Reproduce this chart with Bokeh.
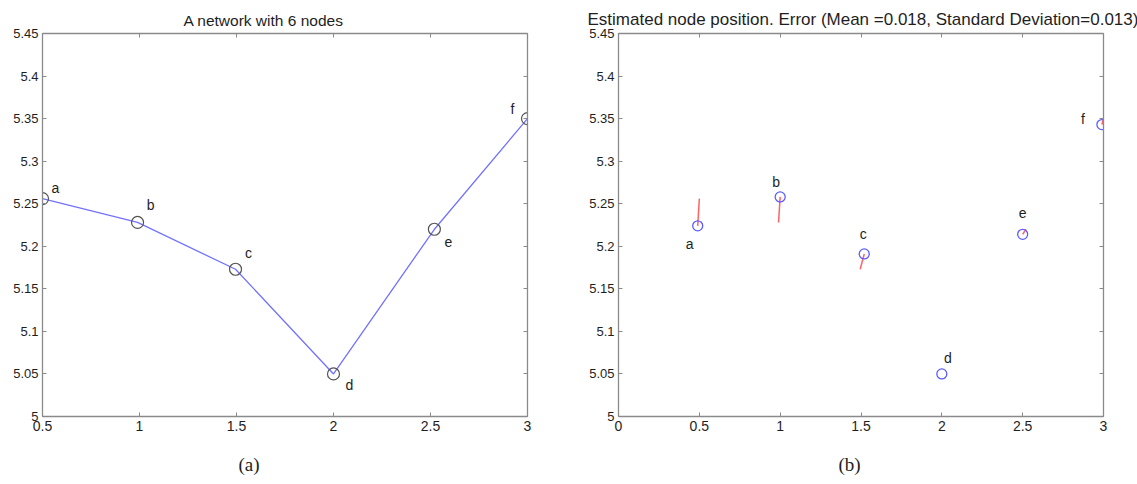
from bokeh.plotting import figure
from bokeh.layouts import row
from bokeh.models import LinearAxis, FixedTicker, Range1d, ColumnDataSource, Title, CustomJSTickFormatter
from bokeh.embed import file_html
from bokeh.resources import INLINE
from bokeh.core.properties import value

# ---------------- data ----------------
node_names = ["a", "b", "c", "d", "e", "f"]
true_x = [0.5, 0.99, 1.495, 2.0, 2.52, 3.0]
true_y = [5.256, 5.228, 5.173, 5.05, 5.22, 5.35]
est_x = [0.49, 1.0, 1.52, 2.0, 2.5, 2.99]
est_y = [5.224, 5.258, 5.191, 5.05, 5.214, 5.343]

y_ticks = [5.0, 5.05, 5.1, 5.15, 5.2, 5.25, 5.3, 5.35, 5.4, 5.45]
y_tick_labels = ["5", "5.05", "5.1", "5.15", "5.2", "5.25", "5.3", "5.35", "5.4", "5.45"]
xa_ticks = [0.5, 1.0, 1.5, 2.0, 2.5, 3.0]
xa_tick_labels = ["0.5", "1", "1.5", "2", "2.5", "3"]
xb_ticks = [0.0, 0.5, 1.0, 1.5, 2.0, 2.5, 3.0]
xb_tick_labels = ["0", "0.5", "1", "1.5", "2", "2.5", "3"]

title_a = "A network with 6 nodes"
title_b = "Estimated node position. Error (Mean =0.018, Standard Deviation=0.013)"
caption_a = "(a)"
caption_b = "(b)"

# label offsets (screen pixels) - styling
lab_a_dx = [13, 13, 13, 16, 14, -15]
lab_a_dy = [-11, -17, -16, 11, 13, -10]
lab_b_dx = [-8, -4, -1, 6, 0, -19]
lab_b_dy = [18, -15, -20, -16, -21, -6]

FONT = "Liberation Sans"
SERIF = "Liberation Serif"
AXIS_GRAY = "#8a8a8a"
TEXT = "#1e1e1e"

blank = CustomJSTickFormatter(code="return ''")


def style_fig(p, xticks, xlabels, title_size, title_offset, caption, caption_offset):
    bottom_ax = p.below[0]
    left_ax = p.left[0]
    bottom_ax.ticker = FixedTicker(ticks=xticks)
    bottom_ax.major_label_overrides = {t: l for t, l in zip(xticks, xlabels)}
    left_ax.ticker = FixedTicker(ticks=y_ticks)
    left_ax.major_label_overrides = {t: l for t, l in zip(y_ticks, y_tick_labels)}
    top = LinearAxis(ticker=FixedTicker(ticks=xticks), formatter=blank, major_label_standoff=0)
    right = LinearAxis(ticker=FixedTicker(ticks=y_ticks), formatter=blank, major_label_standoff=0)
    p.add_layout(top, "above")
    p.add_layout(right, "right")
    for ax in (bottom_ax, left_ax, top, right):
        ax.axis_line_color = AXIS_GRAY
        ax.axis_line_width = 1.3
        ax.major_tick_line_color = AXIS_GRAY
        ax.major_tick_in = 4
        ax.major_tick_out = 0
        ax.minor_tick_line_color = None
        ax.major_label_text_font = FONT
        ax.major_label_text_color = TEXT
    bottom_ax.major_label_text_font_size = "14px"
    bottom_ax.major_label_standoff = 4
    left_ax.major_label_text_font_size = "13px"
    left_ax.major_label_standoff = 4
    p.xgrid.visible = False
    p.ygrid.visible = False
    p.outline_line_color = AXIS_GRAY
    p.background_fill_color = "white"
    p.border_fill_color = "white"
    p.title.text_font = FONT
    p.title.text_font_style = "normal"
    p.title.text_font_size = title_size
    p.title.text_color = TEXT
    p.title.align = "left"
    p.title.offset = title_offset
    p.add_layout(Title(text=caption, align="left", offset=caption_offset, text_font=SERIF,
                       text_font_size="19px", text_font_style="normal", text_color=TEXT,
                       standoff=36), "below")


# ---------------- panel (a) ----------------
pa = figure(frame_width=485, frame_height=383, min_border_left=42, min_border_right=41,
            min_border_top=33, min_border_bottom=68, x_range=Range1d(0.5, 3.0),
            y_range=Range1d(5.0, 5.45), output_backend="svg", toolbar_location=None,
            title=title_a)
style_fig(pa, xa_ticks, xa_tick_labels, "15.5px", 141, caption_a, 196)

src_a = ColumnDataSource(dict(x=true_x, y=true_y, name=node_names, dx=lab_a_dx, dy=lab_a_dy))
pa.line("x", "y", source=src_a, line_color="#7272ff", line_width=1.3)
pa.scatter("x", "y", source=src_a, marker="circle", size=12, fill_color=None,
           line_color="#555555", line_width=1.2)
pa.text("x", "y", text="name", source=src_a, x_offset="dx", y_offset="dy",
        text_align="center", text_baseline="middle", text_font=value(FONT),
        text_font_size="14px", text_color=TEXT)

# ---------------- panel (b) ----------------
pb = figure(frame_width=485, frame_height=383, min_border_left=50, min_border_right=34,
            min_border_top=33, min_border_bottom=68, x_range=Range1d(0.0, 3.0),
            y_range=Range1d(5.0, 5.45), output_backend="svg", toolbar_location=None,
            title=title_b)
style_fig(pb, xb_ticks, xb_tick_labels, "17px", -31, caption_b, 220)

src_b = ColumnDataSource(dict(x=est_x, y=est_y, tx=true_x, ty=true_y, name=node_names,
                              dx=lab_b_dx, dy=lab_b_dy))
pb.segment(x0="tx", y0="ty", x1="x", y1="y", source=src_b, line_color="#ff6464", line_width=1.5)
pb.scatter("x", "y", source=src_b, marker="circle", size=10, fill_color=None,
           line_color="#5c5cff", line_width=1.3)
pb.text("x", "y", text="name", source=src_b, x_offset="dx", y_offset="dy",
        text_align="center", text_baseline="middle", text_font=value(FONT),
        text_font_size="14px", text_color=TEXT)

layout = row(pa, pb)
open("out.html", "w").write(file_html(layout, INLINE))
